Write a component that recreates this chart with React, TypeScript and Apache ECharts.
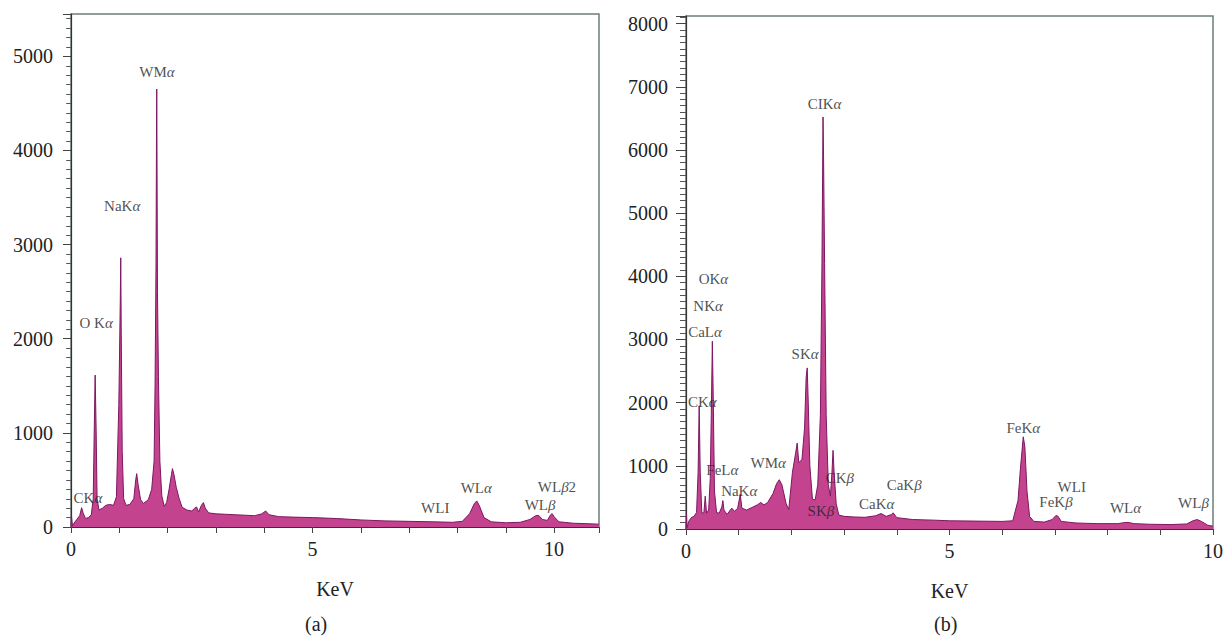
import React, { useEffect, useRef } from "react";
import * as echarts from "echarts";

// EDS spectrum (a): [keV, counts]
const spectrumA: [number, number][] = [
  [0, 0], [0.01, 120], [0.03, 10], [0.06, 40], [0.12, 80], [0.18, 120], [0.22, 205], [0.25, 150],
  [0.3, 90], [0.36, 100], [0.42, 130], [0.46, 300], [0.48, 1000], [0.5, 1614], [0.52, 1050],
  [0.54, 300], [0.58, 180], [0.65, 200], [0.72, 230], [0.8, 240], [0.88, 230], [0.94, 320],
  [0.99, 1300], [1.02, 2400], [1.03, 2860], [1.04, 2050], [1.06, 800], [1.09, 300], [1.14, 230],
  [1.22, 240], [1.3, 300], [1.34, 500], [1.36, 567], [1.39, 450], [1.44, 290], [1.5, 250],
  [1.6, 290], [1.67, 400], [1.72, 700], [1.74, 1500], [1.76, 2800], [1.77, 4200], [1.775, 4653],
  [1.78, 4000], [1.79, 2500], [1.81, 1600], [1.84, 700], [1.88, 330], [1.93, 220], [1.98, 260],
  [2.03, 400], [2.08, 560], [2.1, 620], [2.13, 560], [2.18, 420], [2.24, 300], [2.3, 210],
  [2.4, 180], [2.5, 170], [2.56, 200], [2.6, 213], [2.64, 160], [2.7, 230], [2.74, 259],
  [2.78, 200], [2.85, 150], [3.0, 140], [3.2, 135], [3.4, 130], [3.6, 125], [3.8, 120],
  [3.95, 140], [4.03, 170], [4.1, 130], [4.3, 110], [4.6, 105], [5.0, 100], [5.5, 90],
  [6.0, 75], [6.5, 65], [7.0, 60], [7.5, 55], [7.9, 50], [8.1, 60], [8.25, 140], [8.35, 250],
  [8.4, 277], [8.45, 230], [8.55, 100], [8.7, 55], [9.0, 45], [9.3, 50], [9.5, 80], [9.62, 120],
  [9.68, 124], [9.76, 80], [9.86, 70], [9.93, 130], [9.96, 142], [10.0, 110], [10.1, 55],
  [10.4, 40], [10.7, 35], [10.93, 30],
];

// EDS spectrum (b): [keV, counts]
const spectrumB: [number, number][] = [
  [0, 0], [0.01, 230], [0.02, 20], [0.05, 120], [0.1, 180], [0.15, 200], [0.2, 260], [0.23, 900],
  [0.25, 1950], [0.27, 900], [0.3, 250], [0.34, 260], [0.365, 520], [0.39, 250], [0.43, 300],
  [0.46, 800], [0.48, 1800], [0.5, 2972], [0.52, 1900], [0.54, 600], [0.58, 260], [0.63, 250],
  [0.68, 350], [0.7, 450], [0.72, 300], [0.78, 230], [0.84, 300], [0.87, 330], [0.92, 280],
  [0.98, 330], [1.03, 550], [1.06, 330], [1.15, 300], [1.25, 340], [1.35, 380], [1.42, 420],
  [1.48, 380], [1.55, 420], [1.65, 560], [1.72, 720], [1.77, 780], [1.82, 700], [1.9, 400],
  [1.95, 310], [2.02, 900], [2.08, 1200], [2.11, 1360], [2.14, 1050], [2.2, 1100], [2.25, 1600],
  [2.28, 2400], [2.3, 2550], [2.32, 2000], [2.35, 1000], [2.4, 470], [2.45, 460], [2.5, 700],
  [2.55, 1800], [2.58, 4200], [2.6, 6522], [2.61, 5900], [2.63, 4200], [2.66, 1800], [2.7, 700],
  [2.74, 520], [2.77, 900], [2.79, 1245], [2.81, 900], [2.85, 400], [2.9, 220], [3.0, 200],
  [3.2, 190], [3.4, 185], [3.6, 210], [3.7, 245], [3.8, 200], [3.9, 230], [3.93, 256], [4.0, 180],
  [4.3, 150], [4.7, 140], [5.0, 130], [5.5, 125], [6.0, 120], [6.2, 130], [6.3, 450], [6.35, 1000],
  [6.4, 1459], [6.43, 1300], [6.47, 600], [6.52, 200], [6.6, 120], [6.8, 110], [6.95, 150],
  [7.02, 215], [7.06, 200], [7.12, 120], [7.4, 95], [7.8, 85], [8.2, 85], [8.3, 100], [8.39, 105],
  [8.5, 85], [8.8, 75], [9.2, 70], [9.5, 80], [9.62, 130], [9.7, 150], [9.78, 120], [9.9, 60],
  [10, 45],
];

// Peak labels: [text, keV, counts]
const peaksA: [string, number, number][] = [
  ["CKα", 0.35, 305], ["O Kα", 0.52, 2167], ["NaKα", 1.06, 3412], ["WMα", 1.78, 4837],
  ["WLI", 7.54, 199], ["WLα", 8.39, 412], ["WLβ", 9.71, 231], ["WLβ2", 10.06, 422],
];
const peaksB: [string, number, number][] = [
  ["OKα", 0.52, 3964], ["NKα", 0.42, 3536], ["CaLα", 0.36, 3125], ["CKα", 0.31, 2017],
  ["FeLα", 0.69, 926], ["NaKα", 1.01, 609], ["WMα", 1.56, 1052], ["SKα", 2.26, 2777],
  ["CKβ", 2.92, 815], ["SKβ", 2.56, 277], ["CaKα", 3.62, 403], ["CaKβ", 4.14, 704],
  ["CIKα", 2.63, 6733], ["FeKα", 6.4, 1606], ["WLI", 7.32, 672], ["FeKβ", 7.02, 435],
  ["WLα", 8.34, 340], ["WLβ", 9.63, 419],
];

const xTickLabels = [0, 5, 10];
const xMaxA = 10.93;
const xMaxB = 10;
const yMaxA = 5450;
const yMaxB = 8120;

const SERIF = "Liberation Serif";

export default function App() {
  const ref = useRef<HTMLDivElement>(null);
  useEffect(() => {
    const chart = echarts.init(ref.current!, null, { renderer: "svg" });

    const xAxis = (gridIndex: number, max: number) => ({
      type: "value",
      gridIndex,
      min: 0,
      max,
      interval: 1,
      name: "KeV",
      nameLocation: "middle",
      nameGap: 52,
      nameTextStyle: { fontFamily: SERIF, fontSize: 20, color: "#222" },
      axisLine: { show: true, onZero: false, lineStyle: { color: "#333", width: 1.2 } },
      axisTick: { show: true, inside: false, length: 6, lineStyle: { color: "#444" } },
      axisLabel: {
        fontFamily: SERIF,
        fontSize: 20,
        color: "#222",
        margin: 12,
        formatter: (v: number) => (xTickLabels.includes(v) ? String(v) : ""),
      },
      splitLine: { show: false },
    });

    const yAxis = (gridIndex: number, max: number, tickLen: number) => ({
      type: "value",
      gridIndex,
      min: 0,
      max,
      interval: 1000,
      axisLine: { show: true, onZero: false, lineStyle: { color: "#333", width: 1.2 } },
      axisTick: { show: true, inside: false, length: tickLen, lineStyle: { color: "#444" } },
      minorTick: { show: true, splitNumber: 10, length: tickLen * 0.6, lineStyle: { color: "#555" } },
      axisLabel: {
        fontFamily: SERIF,
        fontSize: 20,
        color: "#222",
        margin: 18,
        formatter: (v: number) => (v % 1000 === 0 ? String(v) : ""),
      },
      splitLine: { show: false },
      minorSplitLine: { show: false },
    });

    const areaSeries = (idx: number, data: [number, number][]) => ({
      type: "line",
      xAxisIndex: idx,
      yAxisIndex: idx,
      data,
      symbol: "none",
      lineStyle: { color: "#7d1762", width: 1 },
      areaStyle: { color: "#c4438f", opacity: 1 },
      z: 2,
    });

    const labelSeries = (idx: number, peaks: [string, number, number][]) => ({
      type: "scatter",
      xAxisIndex: idx,
      yAxisIndex: idx,
      symbolSize: 0,
      data: peaks.map((p) => ({ name: p[0], value: [p[1], p[2]] })),
      label: {
        show: true,
        position: [0, 0],
        align: "center",
        verticalAlign: "middle",
        fontFamily: SERIF,
        fontSize: 15,
        color: "#222",
        formatter: (p: any) => String(p.name).replace(/([αβ])/g, "{i|$1}"),
        rich: { i: { fontFamily: SERIF, fontSize: 15, fontStyle: "italic", color: "#222" } },
      },
      z: 5,
    });

    chart.setOption({
      animation: false,
      backgroundColor: "#ffffff",
      textStyle: { fontFamily: SERIF },
      grid: [
        { left: 71, top: 14, width: 528, height: 513, show: true, borderColor: "#6e7d7b", borderWidth: 1.5, backgroundColor: "transparent" },
        { left: 686, top: 16, width: 528, height: 513, show: true, borderColor: "#6e7d7b", borderWidth: 1.5, backgroundColor: "transparent" },
      ],
      xAxis: [xAxis(0, xMaxA), xAxis(1, xMaxB)],
      yAxis: [yAxis(0, yMaxA, 8), yAxis(1, yMaxB, 10)],
      series: [
        areaSeries(0, spectrumA),
        areaSeries(1, spectrumB),
        labelSeries(0, peaksA),
        labelSeries(1, peaksB),
      ],
      graphic: [
        { type: "text", left: 305, top: 614, style: { text: "(a)", fontFamily: SERIF, fontSize: 20, fill: "#222" } },
        { type: "text", left: 934, top: 614, style: { text: "(b)", fontFamily: SERIF, fontSize: 20, fill: "#222" } },
      ],
    });
    return () => chart.dispose();
  }, []);
  return (
    <div
      ref={ref}
      style={{ position: "fixed", left: 0, top: 0, width: 1226, height: 641, background: "#fff" }}
    />
  );
}
